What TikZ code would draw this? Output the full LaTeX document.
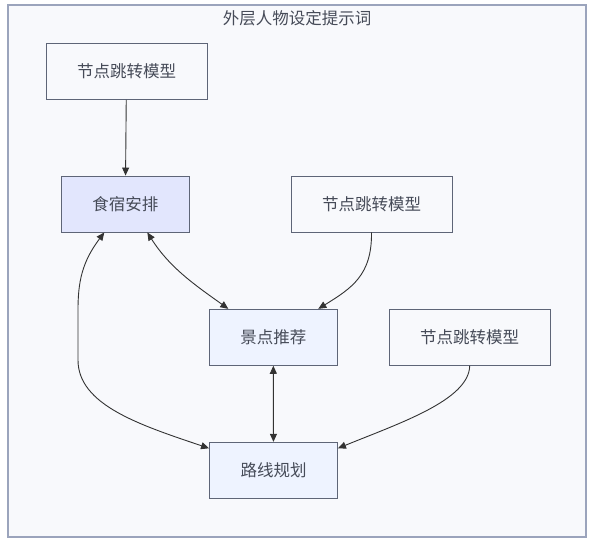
\documentclass[tikz,border=0pt]{standalone}
\usepackage{fontspec}
\newfontfamily\cjk{Noto Sans CJK SC}
\usetikzlibrary{arrows.meta}
\definecolor{bgcol}{HTML}{F8F9FC}
\definecolor{framecol}{HTML}{9BA4BC}
\definecolor{linecol}{HTML}{5E6577}
\definecolor{textcol}{HTML}{464B58}
\definecolor{purplefill}{HTML}{E2E6FD}
\definecolor{bluefill}{HTML}{EEF3FF}
\definecolor{arrowcol}{HTML}{333333}
\begin{document}
\begin{tikzpicture}[x=1pt,y=-1pt,
    font=\cjk\fontsize{16.5}{19}\selectfont,
    box/.style={draw=linecol,line width=0.9pt,text=textcol,minimum height=56pt,inner sep=0pt},
    modelbox/.style={box,fill=bgcol,minimum width=161pt},
    taskbox/.style={box,fill=bluefill,minimum width=128pt},
    link/.style={draw=arrowcol,line width=0.9pt,-{Triangle[length=8pt,width=7pt]}},
    duallink/.style={link,{Triangle[length=8pt,width=7pt]}-{Triangle[length=8pt,width=7pt]}}]
        \useasboundingbox (0,0) rectangle (593,545);
        % outline
        \draw[framecol,fill=bgcol,line width=1.6pt] (8,5) rectangle (586,537);
        \node[text=textcol] (title) at (297,18) {外层人物设定提示词};
        % nodes
        \node[modelbox] (model1) at (126.5,71.5) {节点跳转模型};
        \node[taskbox,fill=purplefill] (shisu) at (125.3,204) {食宿安排};
        \node[modelbox] (model2) at (371.5,204) {节点跳转模型};
        \node[taskbox] (jingdian) at (273.3,337.3) {景点推荐};
        \node[modelbox] (model3) at (469.7,337.3) {节点跳转模型};
        \node[taskbox] (luxian) at (273.5,470.3) {路线规划};
        % edges
        \path[link] (model1) -- (shisu);
        \path[duallink] ([xshift=22pt]shisu.south) .. controls (170,268) and (195,285) .. ([xshift=-45pt]jingdian.north);
        \path[duallink] ([xshift=-21pt]shisu.south) .. controls (82,262) and (78,282) .. (78,310)
              -- (78,360) .. controls (78,405) and (140,425) .. ([yshift=22pt]luxian.west);
        \path[link] (model2.south) .. controls (372,275) and (352,288) .. ([xshift=45pt]jingdian.north);
        \path[duallink] (jingdian) -- (luxian);
        \path[link] (model3.south) .. controls (469,400) and (400,423) .. ([yshift=22pt]luxian.east);
\end{tikzpicture}
\end{document}
